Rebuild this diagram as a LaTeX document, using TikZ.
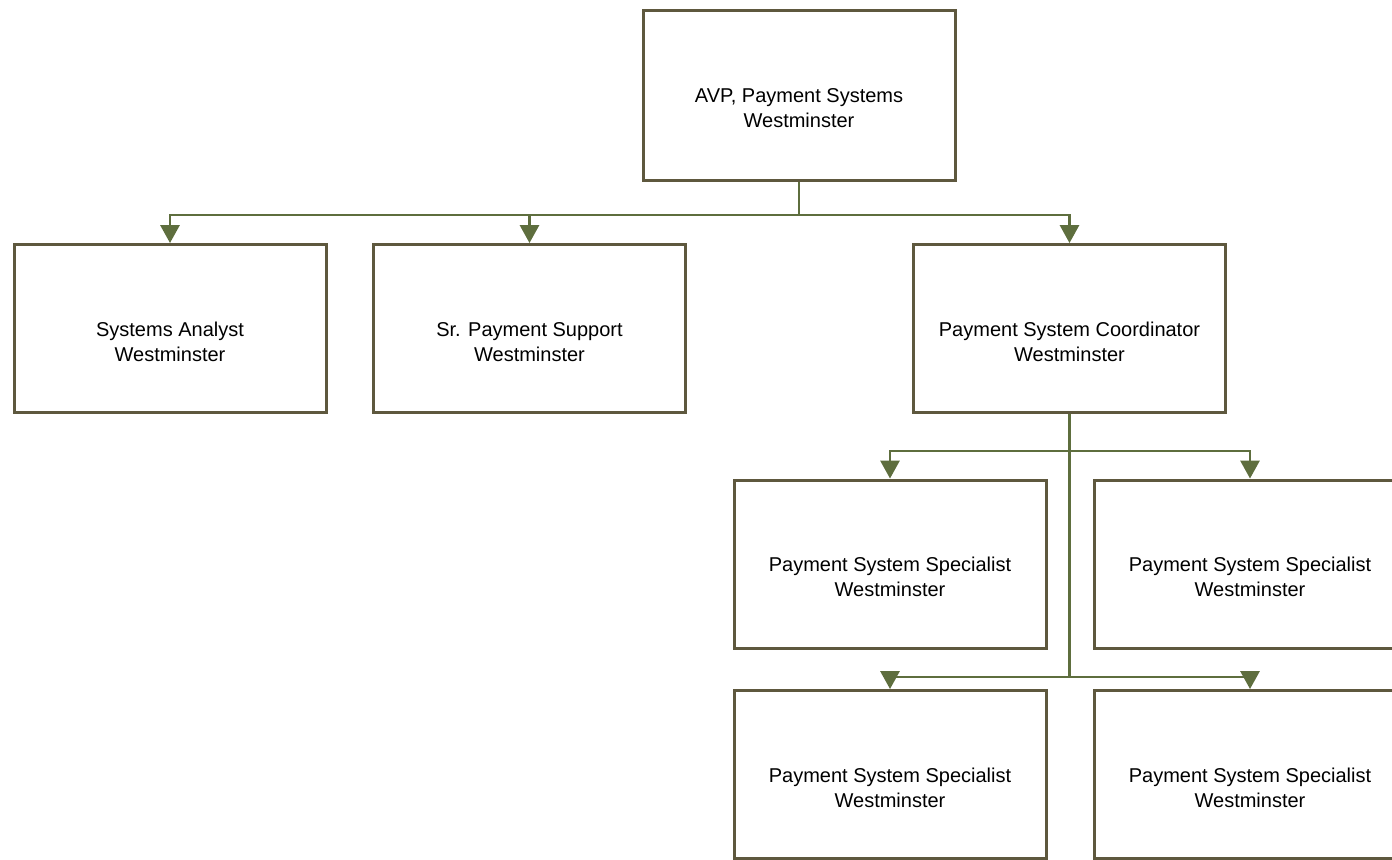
\documentclass[tikz,border=0pt]{standalone}
\usepackage{fontspec}
\setmainfont{Liberation Sans}
\usetikzlibrary{arrows.meta}
\definecolor{boxline}{RGB}{94,88,62}
\definecolor{linkline}{RGB}{94,110,62}

\begin{document}
\begin{tikzpicture}[x=0.75pt, y=-0.75pt,
  box/.style={draw=boxline, line width=2.25pt, fill=white, minimum width=234pt, minimum height=126pt, inner sep=0pt},
  txt/.style={align=center, font=\fontsize{15}{18.75}\selectfont, inner sep=0pt},
  link/.style={draw=linkline, line width=1.6pt},
  tolink/.style={link, -{Triangle[width=14.5pt, length=13.5pt]}}]
\useasboundingbox (0,0) rectangle (1392,860);
\clip (0,0) rectangle (1392,860);
% boxes
\node [box, minimum height=127.5pt] (avp) at (799,95) {};
\node [box] (analyst) at (170,328.5) {};
\node [box] (support) at (529.5,328.5) {};
\node [box] (coord) at (1069.5,328.5) {};
\node [box] (spec1) at (890,564) {};
\node [box] (spec2) at (1250,564) {};
\node [box] (spec3) at (890,774.5) {};
\node [box] (spec4) at (1250,774.5) {};
% texts
\node [txt] (avptxt) at ([yshift=-10pt]avp) {AVP, Payment Systems\\Westminster};
\node [txt] (analysttxt) at ([yshift=-10pt]analyst) {Systems Analyst\\Westminster};
\node [txt] (supporttxt) at ([yshift=-10pt]support) {Sr. Payment Support\\Westminster};
\node [txt] (coordtxt) at ([yshift=-10pt]coord) {Payment System Coordinator\\Westminster};
\node [txt] (spec1txt) at ([yshift=-10pt]spec1) {Payment System Specialist\\Westminster};
\node [txt] (spec2txt) at ([yshift=-10pt]spec2) {Payment System Specialist\\Westminster};
\node [txt] (spec3txt) at ([yshift=-10pt]spec3) {Payment System Specialist\\Westminster};
\node [txt] (spec4txt) at ([yshift=-10pt]spec4) {Payment System Specialist\\Westminster};
% connectors
\coordinate (bus1) at (799,215);
\coordinate (bus2) at (1069.5,451);
\coordinate (bus3) at (1069.5,677);
\draw [link] (avp.south) -- (bus1);
\draw [tolink] (bus1) -| (analyst.north);
\draw [tolink] (bus1) -| (support.north);
\draw [tolink] (bus1) -| (coord.north);
\draw [link] (coord.south) -- (bus3);
\draw [tolink] (bus2) -| (spec1.north);
\draw [tolink] (bus2) -| (spec2.north);
\draw [tolink] (bus3) -| (spec3.north);
\draw [tolink] (bus3) -| (spec4.north);
\end{tikzpicture}
\end{document}
